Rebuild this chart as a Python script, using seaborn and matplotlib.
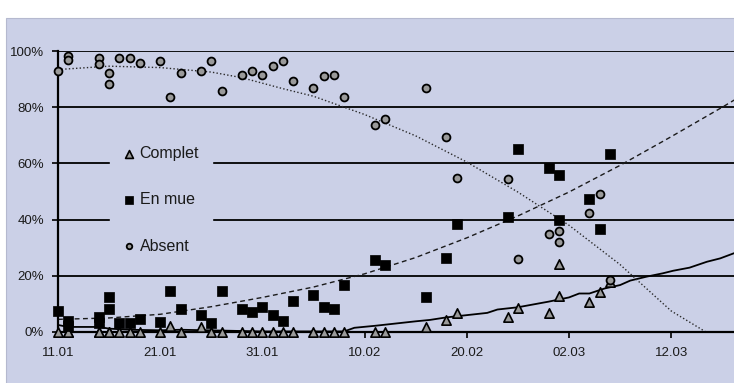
import pandas as pd
import numpy as np
import matplotlib
matplotlib.use("Agg")
import matplotlib.pyplot as plt
import seaborn as sns

# ------------------------------------------
# Data
# ------------------------------------------
YEAR = 2003

dates = ["11.01", "12.01", "12.01", "15.01", "15.01", "16.01", "16.01", "17.01",
         "18.01", "19.01", "21.01", "22.01", "23.01", "25.01", "26.01", "27.01",
         "29.01", "30.01", "31.01", "01.02", "02.02", "03.02", "05.02", "06.02",
         "07.02", "08.02", "11.02", "12.02", "16.02", "18.02", "19.02", "24.02",
         "25.02", "28.02", "01.03", "01.03", "04.03", "05.03", "06.03"]

complet = [0, 0, 0, 0, 0, 0, 0, 0, 0, 0, 0, 2.2, 0, 1.9, 0, 0, 0, 0, 0, 0,
           0, 0, 0, 0, 0, 0, 0, 0, 1.9, 4.3, 6.9, 5.5, 8.7, 6.9, 12.8, 24.2,
           10.7, 14.3, 17.9]

en_mue = [7.5, 2.0, 4.0, 3.1, 5.4, 8.2, 12.3, 3.1, 3.1, 4.5, 3.7, 14.6, 8.2,
          6.0, 3.1, 14.6, 8.2, 7.1, 9.0, 5.9, 3.9, 11.0, 13.0, 8.8, 8.1, 16.6,
          25.8, 23.7, 12.3, 26.5, 38.5, 40.8, 65.0, 58.5, 55.8, 40.0, 47.2,
          36.5, 63.5]

absent = [93.0, 98.2, 96.7, 97.4, 95.3, 92.3, 88.2, 97.5, 97.5, 95.8, 96.4,
          83.7, 92.3, 93.0, 96.5, 85.9, 91.6, 92.9, 91.6, 94.6, 96.4, 89.3,
          86.9, 91.0, 91.6, 83.7, 73.8, 75.7, 87.0, 69.4, 54.8, 54.6, 26.1,
          34.7, 31.9, 36.0, 42.4, 49.0, 18.5]

# trend lines (days after 11.01)
absent_trend_days = [0, 5, 10, 15, 18, 22, 25, 30, 35, 40, 45, 50, 55, 60, 63.4]
absent_trend = [93.4, 94.6, 94.1, 92.5, 90.5, 86.6, 83.9, 77.4, 69.8, 60.5,
                49.8, 38.0, 24.0, 7.5, 0.0]

en_mue_trend_days = [0, 5, 10, 15, 20, 25, 30, 35, 40, 45, 50, 55, 60, 65, 66.2]
en_mue_trend = [4.5, 5.0, 6.3, 9.0, 12.3, 16.0, 20.7, 26.5, 33.5, 41.3, 49.8,
                59.3, 69.5, 80.0, 82.6]

complet_trend_days = [0, 1, 4, 5, 7, 10, 12, 16, 20, 28, 29, 31, 33, 35, 36.4,
                      38, 40, 42, 43, 45, 48, 50, 51, 52, 53.5, 55, 56, 57.6,
                      59.2, 60.2, 61.8, 63.5, 64.8, 66.2]
complet_trend = [2.5, 1.8, 1.8, 1.2, 0.8, 0.6, 0.8, 0.5, 0.2, 0.2, 1.5, 2.2,
                 3.0, 3.8, 4.3, 5.2, 6.0, 6.8, 8.0, 8.8, 10.8, 12.3, 13.7,
                 13.7, 15.5, 16.7, 18.3, 19.7, 20.9, 21.8, 22.9, 25.0, 26.2,
                 28.1]

tick_labels = ["11.01", "21.01", "31.01", "10.02", "20.02", "02.03", "12.03"]
y_ticks = [0, 20, 40, 60, 80, 100]


def to_date(items):
    return pd.to_datetime([f"{d}.{YEAR}" for d in items], format="%d.%m.%Y")


df = pd.DataFrame({"date": to_date(dates), "Complet": complet,
                   "En mue": en_mue, "Absent": absent})
start = df["date"].min()

# ------------------------------------------
# Figure
# ------------------------------------------
sns.set_theme(style="ticks")
plt.rcParams["font.family"] = ["Liberation Sans", "DejaVu Sans"]

BG = "#CBD0E7"
fig = plt.figure(figsize=(7.34, 3.83), dpi=100, facecolor="white")
fig.patches.append(plt.Rectangle((6 / 734, -0.01), 1.0, (383 - 18) / 383 + 0.01,
                                 transform=fig.transFigure, facecolor=BG,
                                 edgecolor="#B5B9CF", lw=0.8, zorder=-10))
ax = fig.add_axes([58 / 734, 51 / 383, 676 / 734, 281 / 383])
ax.set_facecolor(BG)

for v in y_ticks[1:]:
    ax.axhline(v, color="black", lw=1.3, zorder=1)

# trend lines
sns.lineplot(x=start + pd.to_timedelta(complet_trend_days, unit="D"), y=complet_trend,
             ax=ax, color="black", lw=1.3, zorder=2)
sns.lineplot(x=start + pd.to_timedelta(en_mue_trend_days, unit="D"), y=en_mue_trend,
             ax=ax, color="#1a1a1a", lw=1.0, linestyle=(0, (3.5, 2.5)), zorder=2)
sns.lineplot(x=start + pd.to_timedelta(absent_trend_days, unit="D"), y=absent_trend,
             ax=ax, color="#2a2a2a", lw=1.0, linestyle=(0, (1, 1.6)), zorder=2)

# points
sns.scatterplot(data=df, x="date", y="Complet", marker="^", s=45, color="#9A9A9A",
                edgecolor="black", linewidth=1.2, ax=ax, clip_on=False, zorder=4,
                label="Complet")
sns.scatterplot(data=df, x="date", y="En mue", marker="s", s=48, color="black",
                edgecolor="black", linewidth=0.5, ax=ax, clip_on=False, zorder=4,
                label="En mue")
sns.scatterplot(data=df, x="date", y="Absent", marker="o", s=32, color="#9A9A9A",
                edgecolor="black", linewidth=1.3, ax=ax, clip_on=False, zorder=4,
                label="Absent")

ax.set_xlim(start, start + pd.Timedelta(days=66.15))
ax.set_ylim(0, 100)
ax.set_xticks(to_date(tick_labels))
ax.set_xticklabels(tick_labels)
ax.set_yticks(y_ticks)
ax.set_yticklabels([f"{v}%" for v in y_ticks])
ax.set_xlabel("")
ax.set_ylabel("")
ax.tick_params(axis="x", direction="out", length=4, width=1.2, color="black",
               pad=7, labelsize=9.5, labelcolor="#1a1a1a")
ax.tick_params(axis="y", direction="out", length=4, width=1.2, color="black",
               pad=6, labelsize=9.5, labelcolor="#1a1a1a")

for side in ["top", "right"]:
    ax.spines[side].set_visible(False)
for side in ["left", "bottom"]:
    ax.spines[side].set_color("black")
    ax.spines[side].set_linewidth(1.6)
    ax.spines[side].set_zorder(3)

leg = ax.legend(loc="center left", bbox_to_anchor=(110 / 734, 1 - 200 / 383),
                bbox_transform=fig.transFigure, frameon=True, facecolor=BG,
                edgecolor=BG, framealpha=1, fancybox=False, fontsize=11.5,
                labelspacing=1.95, handlelength=0.8, handletextpad=0.25,
                borderpad=0.8, borderaxespad=0)
leg.legend_handles[0].set_sizes([32])
leg.legend_handles[1].set_sizes([34])
leg.legend_handles[2].set_sizes([16])
for t in leg.get_texts():
    t.set_color("#1a1a1a")

fig.savefig("out.png", dpi=100, facecolor="white")
print("saved out.png")
